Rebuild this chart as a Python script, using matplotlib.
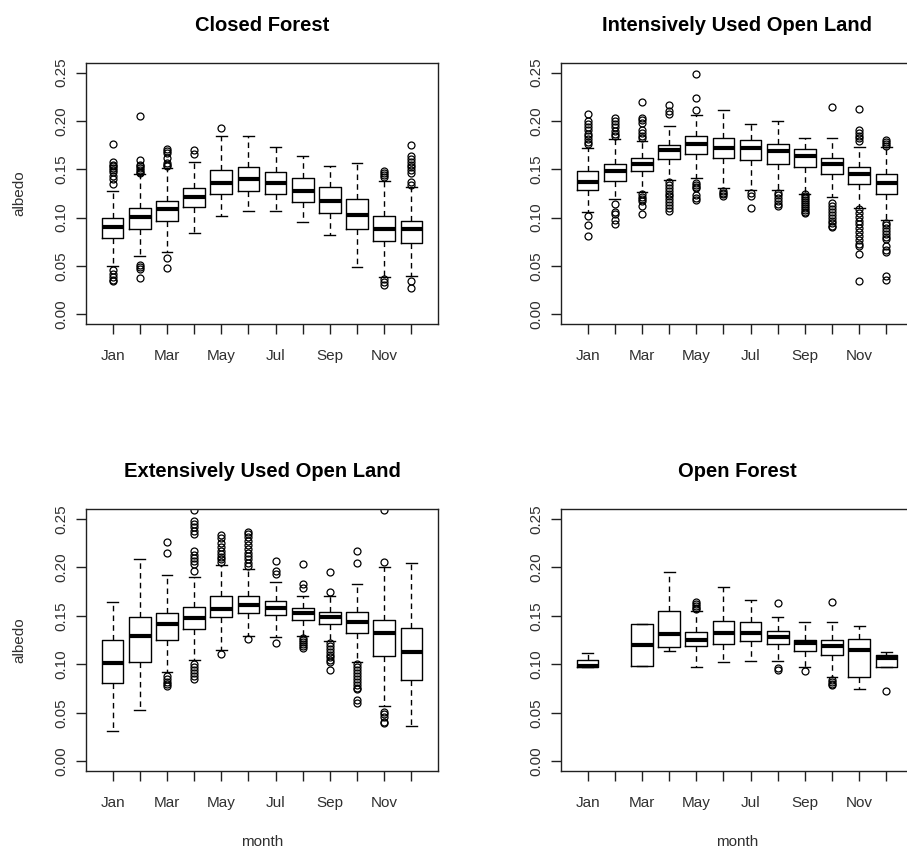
import matplotlib
matplotlib.use("Agg")
import matplotlib.pyplot as plt

plt.rcParams["font.family"] = ["Liberation Sans", "DejaVu Sans"]

MONTHS = ["Jan", "Feb", "Mar", "Apr", "May", "Jun",
          "Jul", "Aug", "Sep", "Oct", "Nov", "Dec"]
TITLES = ["Closed Forest", "Intensively Used Open Land",
          "Extensively Used Open Land", "Open Forest"]
YTICKS = [0.00, 0.05, 0.10, 0.15, 0.20, 0.25]

# ---- box stats per month: (whislo, q1, med, q3, whishi) ----
closed_stats = [
    (0.050, 0.079, 0.090, 0.100, 0.128),
    (0.060, 0.088, 0.101, 0.110, 0.145),
    (0.065, 0.097, 0.109, 0.117, 0.151),
    (0.084, 0.111, 0.121, 0.131, 0.158),
    (0.102, 0.124, 0.136, 0.149, 0.185),
    (0.107, 0.128, 0.140, 0.152, 0.184),
    (0.107, 0.124, 0.136, 0.147, 0.173),
    (0.096, 0.116, 0.128, 0.141, 0.164),
    (0.082, 0.105, 0.117, 0.132, 0.153),
    (0.049, 0.088, 0.103, 0.119, 0.157),
    (0.039, 0.076, 0.088, 0.102, 0.138),
    (0.040, 0.074, 0.088, 0.097, 0.132),
]
closed_fliers = [
    [0.176, 0.158, 0.155, 0.153, 0.151, 0.149, 0.147, 0.143, 0.140, 0.135, 0.046, 0.042, 0.039, 0.036, 0.034],
    [0.205, 0.160, 0.155, 0.153, 0.151, 0.149, 0.147, 0.146, 0.051, 0.049, 0.047, 0.038],
    [0.171, 0.169, 0.167, 0.162, 0.157, 0.155, 0.153, 0.058, 0.048],
    [0.170, 0.166],
    [0.193],
    [],
    [],
    [],
    [],
    [],
    [0.148, 0.146, 0.144, 0.142, 0.037, 0.033, 0.030],
    [0.175, 0.164, 0.161, 0.158, 0.155, 0.152, 0.149, 0.146, 0.137, 0.134, 0.035, 0.027],
]

intens_stats = [
    (0.106, 0.129, 0.137, 0.148, 0.172),
    (0.119, 0.138, 0.148, 0.156, 0.181),
    (0.127, 0.148, 0.156, 0.162, 0.179),
    (0.139, 0.161, 0.170, 0.175, 0.195),
    (0.141, 0.166, 0.176, 0.184, 0.206),
    (0.131, 0.162, 0.172, 0.182, 0.211),
    (0.129, 0.160, 0.172, 0.180, 0.197),
    (0.129, 0.156, 0.169, 0.176, 0.200),
    (0.125, 0.152, 0.164, 0.171, 0.182),
    (0.121, 0.145, 0.156, 0.162, 0.182),
    (0.110, 0.135, 0.145, 0.152, 0.173),
    (0.098, 0.124, 0.136, 0.145, 0.173),
]
intens_fliers = [
    [0.207, 0.200, 0.197, 0.194, 0.191, 0.187, 0.184, 0.181, 0.178, 0.176, 0.102, 0.092, 0.081],
    [0.203, 0.200, 0.197, 0.194, 0.190, 0.187, 0.184, 0.114, 0.106, 0.104, 0.098, 0.093],
    [0.220, 0.203, 0.201, 0.198, 0.191, 0.188, 0.185, 0.182, 0.124, 0.121, 0.119, 0.117, 0.112, 0.104],
    [0.217, 0.210, 0.207, 0.137, 0.134, 0.131, 0.128, 0.125, 0.122, 0.119, 0.116, 0.113, 0.110, 0.107],
    [0.249, 0.224, 0.211, 0.136, 0.134, 0.132, 0.131, 0.123, 0.120, 0.118],
    [0.128, 0.126, 0.124, 0.122],
    [0.126, 0.122, 0.110],
    [0.126, 0.123, 0.120, 0.117, 0.114, 0.112],
    [0.124, 0.122, 0.120, 0.118, 0.116, 0.114, 0.112, 0.110, 0.108, 0.106, 0.105],
    [0.214, 0.115, 0.112, 0.109, 0.106, 0.103, 0.100, 0.097, 0.094, 0.091, 0.090],
    [0.212, 0.191, 0.188, 0.185, 0.182, 0.179, 0.109, 0.105, 0.101, 0.097, 0.093, 0.089,
     0.085, 0.081, 0.077, 0.073, 0.071, 0.062, 0.034],
    [0.180, 0.178, 0.176, 0.174, 0.095, 0.092, 0.089, 0.086, 0.083, 0.080, 0.078, 0.071,
     0.067, 0.064, 0.040, 0.036],
]

extens_stats = [
    (0.031, 0.081, 0.101, 0.125, 0.164),
    (0.053, 0.102, 0.129, 0.149, 0.208),
    (0.092, 0.125, 0.142, 0.153, 0.192),
    (0.104, 0.136, 0.148, 0.159, 0.190),
    (0.115, 0.149, 0.157, 0.170, 0.202),
    (0.129, 0.153, 0.161, 0.170, 0.198),
    (0.128, 0.151, 0.158, 0.165, 0.185),
    (0.129, 0.146, 0.153, 0.158, 0.170),
    (0.124, 0.142, 0.149, 0.154, 0.170),
    (0.102, 0.132, 0.144, 0.154, 0.183),
    (0.057, 0.109, 0.132, 0.146, 0.200),
    (0.036, 0.084, 0.113, 0.137, 0.204),
]
extens_fliers = [
    [],
    [],
    [0.226, 0.215, 0.088, 0.085, 0.082, 0.080, 0.078],
    [0.259, 0.248, 0.245, 0.241, 0.237, 0.234, 0.217, 0.213, 0.209, 0.206, 0.203, 0.196,
     0.100, 0.097, 0.094, 0.091, 0.088, 0.085],
    [0.233, 0.230, 0.225, 0.221, 0.217, 0.214, 0.211, 0.208, 0.205, 0.111],
    [0.236, 0.234, 0.231, 0.227, 0.223, 0.219, 0.215, 0.212, 0.208, 0.204, 0.201, 0.126],
    [0.206, 0.196, 0.193, 0.122],
    [0.203, 0.183, 0.179, 0.127, 0.125, 0.123, 0.121, 0.119, 0.117],
    [0.195, 0.174, 0.122, 0.119, 0.116, 0.113, 0.110, 0.107, 0.104, 0.102, 0.094],
    [0.217, 0.204, 0.100, 0.097, 0.094, 0.091, 0.088, 0.085, 0.082, 0.079, 0.076, 0.074,
     0.063, 0.060],
    [0.259, 0.205, 0.051, 0.049, 0.046, 0.041, 0.039],
    [],
]

open_stats = [
    (0.097, 0.097, 0.0985, 0.104, 0.1115),
    None,
    (0.098, 0.098, 0.120, 0.142, 0.142),
    (0.114, 0.118, 0.131, 0.155, 0.1955),
    (0.097, 0.119, 0.1255, 0.133, 0.155),
    (0.102, 0.121, 0.132, 0.145, 0.180),
    (0.1035, 0.124, 0.132, 0.144, 0.166),
    (0.1035, 0.121, 0.1285, 0.134, 0.149),
    (0.097, 0.114, 0.122, 0.125, 0.144),
    (0.0865, 0.110, 0.119, 0.125, 0.144),
    (0.075, 0.0865, 0.115, 0.1265, 0.1395),
    (0.097, 0.097, 0.106, 0.110, 0.113),
]
open_fliers = [
    [],
    [],
    [],
    [],
    [0.164, 0.162, 0.160, 0.158, 0.157],
    [],
    [],
    [0.163, 0.096, 0.094],
    [0.093],
    [0.164, 0.084, 0.082, 0.080, 0.079],
    [],
    [0.072],
]

PANELS = [
    (closed_stats, closed_fliers),
    (intens_stats, intens_fliers),
    (extens_stats, extens_fliers),
    (open_stats, open_fliers),
]

W, H = 907, 852
fig = plt.figure(figsize=(W / 100, H / 100), dpi=100)
TXT = "#303030"

# axes rectangles in pixels: left, top, width, height
rects = [(86, 63, 352, 261), (561, 63, 352, 261),
         (86, 509, 352, 262), (561, 509, 352, 262)]

for k, ((stats, fliers), title, (lx, ty, w, h)) in enumerate(zip(PANELS, TITLES, rects)):
    ax = fig.add_axes([lx / W, 1 - (ty + h) / H, w / W, h / H])
    bx, pos = [], []
    for i, s in enumerate(stats):
        if s is None:
            continue
        lo, q1, med, q3, hi = s
        bx.append(dict(whislo=lo, q1=q1, med=med, q3=q3, whishi=hi,
                       fliers=fliers[i], label=MONTHS[i]))
        pos.append(i + 1)
    ax.bxp(bx, positions=pos, widths=0.8, capwidths=0.4,
           boxprops=dict(color="black", lw=1.0),
           medianprops=dict(color="black", lw=3.0, solid_capstyle="butt"),
           whiskerprops=dict(color="black", lw=1.0, linestyle=(0, (4, 3))),
           capprops=dict(color="black", lw=1.0),
           flierprops=dict(marker="o", markersize=5, markerfacecolor="none",
                           markeredgecolor="black", markeredgewidth=0.9))
    ax.set_xlim(0.02, 12.98)
    ax.set_ylim(-0.01, 0.26)
    ax.set_xticks(range(1, 13))
    ax.set_xticklabels([m if i % 2 == 0 else "" for i, m in enumerate(MONTHS)])
    ax.set_yticks(YTICKS)
    ax.set_yticklabels([f"{v:.2f}" for v in YTICKS], rotation=90, va="center")
    ax.tick_params(axis="both", direction="out", length=7, width=1.0,
                   labelsize=11, labelcolor=TXT, color="#202020")
    ax.tick_params(axis="x", pad=11)
    ax.tick_params(axis="y", pad=6)
    for sp in ax.spines.values():
        sp.set_linewidth(1.0)
        sp.set_color("#202020")
    ax.set_title(title, fontsize=14.5, fontweight="bold", pad=23)
    if k % 2 == 0:
        ax.set_ylabel("albedo", fontsize=11, color=TXT, labelpad=20)
    if k >= 2:
        ax.set_xlabel("month", fontsize=11, color=TXT, labelpad=18)

fig.savefig("out.png", dpi=100, facecolor="white")
